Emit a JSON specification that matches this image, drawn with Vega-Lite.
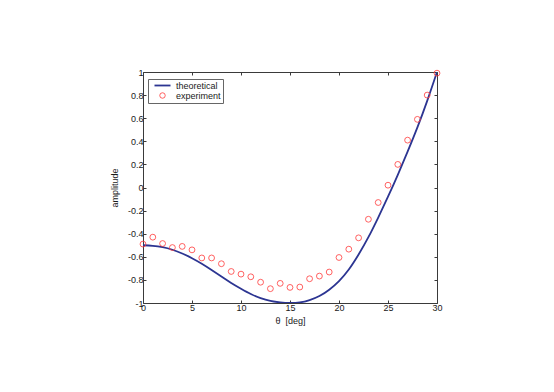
{
  "$schema": "https://vega.github.io/schema/vega-lite/v6.json",
  "autosize": {"type": "none"},
  "padding": {"left": 143, "top": 72, "right": 117, "bottom": 89},
  "width": 294,
  "height": 231,
  "background": "white",
  "config": {
    "font": "Liberation Sans",
    "view": {"stroke": null},
    "axis": {
      "domainColor": "#3a3a3a",
      "tickColor": "#3a3a3a",
      "labelColor": "#1a1a1a",
      "titleColor": "#1a1a1a",
      "labelFont": "Liberation Sans",
      "titleFont": "Liberation Sans",
      "labelFontSize": 9,
      "titleFontSize": 9,
      "titleFontWeight": "normal",
      "grid": false,
      "tickSize": -3,
      "domainWidth": 1,
      "tickWidth": 1,
      "labelFlush": false,
      "labelOverlap": false
    }
  },
  "datasets": {
    "theory": [
      {"theta": 0, "amp": -0.5, "series": "theoretical"},
      {"theta": 1, "amp": -0.505, "series": "theoretical"},
      {"theta": 2, "amp": -0.517, "series": "theoretical"},
      {"theta": 3, "amp": -0.539, "series": "theoretical"},
      {"theta": 4, "amp": -0.571, "series": "theoretical"},
      {"theta": 5, "amp": -0.612, "series": "theoretical"},
      {"theta": 6, "amp": -0.66, "series": "theoretical"},
      {"theta": 7, "amp": -0.714, "series": "theoretical"},
      {"theta": 8, "amp": -0.77, "series": "theoretical"},
      {"theta": 9, "amp": -0.826, "series": "theoretical"},
      {"theta": 10, "amp": -0.876, "series": "theoretical"},
      {"theta": 11, "amp": -0.922, "series": "theoretical"},
      {"theta": 12, "amp": -0.958, "series": "theoretical"},
      {"theta": 13, "amp": -0.982, "series": "theoretical"},
      {"theta": 14, "amp": -0.995, "series": "theoretical"},
      {"theta": 15, "amp": -1.0, "series": "theoretical"},
      {"theta": 16, "amp": -0.995, "series": "theoretical"},
      {"theta": 17, "amp": -0.975, "series": "theoretical"},
      {"theta": 18, "amp": -0.94, "series": "theoretical"},
      {"theta": 19, "amp": -0.885, "series": "theoretical"},
      {"theta": 20, "amp": -0.81, "series": "theoretical"},
      {"theta": 21, "amp": -0.71, "series": "theoretical"},
      {"theta": 22, "amp": -0.58, "series": "theoretical"},
      {"theta": 23, "amp": -0.43, "series": "theoretical"},
      {"theta": 24, "amp": -0.26, "series": "theoretical"},
      {"theta": 25, "amp": -0.08, "series": "theoretical"},
      {"theta": 26, "amp": 0.11, "series": "theoretical"},
      {"theta": 27, "amp": 0.31, "series": "theoretical"},
      {"theta": 28, "amp": 0.52, "series": "theoretical"},
      {"theta": 29, "amp": 0.75, "series": "theoretical"},
      {"theta": 30, "amp": 1.0, "series": "theoretical"}
    ],
    "experiment": [
      {"theta": 0, "amp": -0.49, "series": "experiment"},
      {"theta": 1, "amp": -0.43, "series": "experiment"},
      {"theta": 2, "amp": -0.485, "series": "experiment"},
      {"theta": 3, "amp": -0.52, "series": "experiment"},
      {"theta": 4, "amp": -0.51, "series": "experiment"},
      {"theta": 5, "amp": -0.54, "series": "experiment"},
      {"theta": 6, "amp": -0.61, "series": "experiment"},
      {"theta": 7, "amp": -0.61, "series": "experiment"},
      {"theta": 8, "amp": -0.66, "series": "experiment"},
      {"theta": 9, "amp": -0.727, "series": "experiment"},
      {"theta": 10, "amp": -0.75, "series": "experiment"},
      {"theta": 11, "amp": -0.773, "series": "experiment"},
      {"theta": 12, "amp": -0.82, "series": "experiment"},
      {"theta": 13, "amp": -0.876, "series": "experiment"},
      {"theta": 14, "amp": -0.83, "series": "experiment"},
      {"theta": 15, "amp": -0.865, "series": "experiment"},
      {"theta": 16, "amp": -0.862, "series": "experiment"},
      {"theta": 17, "amp": -0.79, "series": "experiment"},
      {"theta": 18, "amp": -0.767, "series": "experiment"},
      {"theta": 19, "amp": -0.732, "series": "experiment"},
      {"theta": 20, "amp": -0.606, "series": "experiment"},
      {"theta": 21, "amp": -0.534, "series": "experiment"},
      {"theta": 22, "amp": -0.436, "series": "experiment"},
      {"theta": 23, "amp": -0.275, "series": "experiment"},
      {"theta": 24, "amp": -0.13, "series": "experiment"},
      {"theta": 25, "amp": 0.02, "series": "experiment"},
      {"theta": 26, "amp": 0.2, "series": "experiment"},
      {"theta": 27, "amp": 0.41, "series": "experiment"},
      {"theta": 28, "amp": 0.59, "series": "experiment"},
      {"theta": 29, "amp": 0.8, "series": "experiment"},
      {"theta": 30, "amp": 0.99, "series": "experiment"}
    ]
  },
  "resolve": {"axis": {"x": "independent", "y": "independent"}},
  "layer": [
    {
      "data": {"name": "theory"},
      "mark": {"type": "line", "strokeWidth": 1.8, "interpolate": "natural", "clip": true},
      "encoding": {
        "x": {
          "field": "theta", "type": "quantitative",
          "scale": {"domain": [0, 30], "nice": false, "zero": false},
          "axis": {"orient": "bottom", "values": [0, 5, 10, 15, 20, 25, 30], "title": "θ\u00a0 [deg]", "labelPadding": 3, "titlePadding": 4}
        },
        "y": {
          "field": "amp", "type": "quantitative",
          "scale": {"domain": [-1, 1], "nice": false, "zero": false},
          "axis": {"orient": "left", "values": [-1, -0.8, -0.6, -0.4, -0.2, 0, 0.2, 0.4, 0.6, 0.8, 1], "labelExpr": "replace(format(datum.value, '~g'), '−', '-')", "title": "amplitude", "labelPadding": 3, "titlePadding": 8}
        },
        "stroke": {
          "field": "series", "type": "nominal",
          "scale": {"domain": ["theoretical", "experiment"], "range": ["#2c3592", "#ff3b3b"]},
          "legend": {
            "title": null,
            "orient": "none",
            "legendX": 5,
            "legendY": 7,
            "direction": "vertical",
            "padding": 2,
            "rowPadding": 0,
            "strokeColor": "#666666",
            "fillColor": "white",
            "labelFont": "Liberation Sans",
            "labelFontSize": 9,
            "labelColor": "#1a1a1a",
            "symbolOffset": 8,
            "labelOffset": 9,
            "symbolSize": 256,
            "encode": {
              "symbols": {
                "update": {
                  "shape": {"signal": "datum.value === 'theoretical' ? 'stroke' : 'circle'"},
                  "size": {"signal": "datum.value === 'theoretical' ? 256 : 30"},
                  "strokeWidth": {"signal": "datum.value === 'theoretical' ? 1.8 : 0.8"},
                  "fill": {"value": "transparent"}
                }
              }
            }
          }
        }
      }
    },
    {
      "data": {"name": "experiment"},
      "mark": {"type": "point", "shape": "circle", "filled": false, "size": 34, "strokeWidth": 0.8, "opacity": 1},
      "encoding": {
        "x": {
          "field": "theta", "type": "quantitative",
          "axis": {"orient": "top", "values": [0, 5, 10, 15, 20, 25, 30], "labels": false, "title": null}
        },
        "y": {
          "field": "amp", "type": "quantitative",
          "axis": {"orient": "right", "values": [-1, -0.8, -0.6, -0.4, -0.2, 0, 0.2, 0.4, 0.6, 0.8, 1], "labels": false, "title": null}
        },
        "stroke": {"field": "series", "type": "nominal"}
      }
    }
  ]
}
